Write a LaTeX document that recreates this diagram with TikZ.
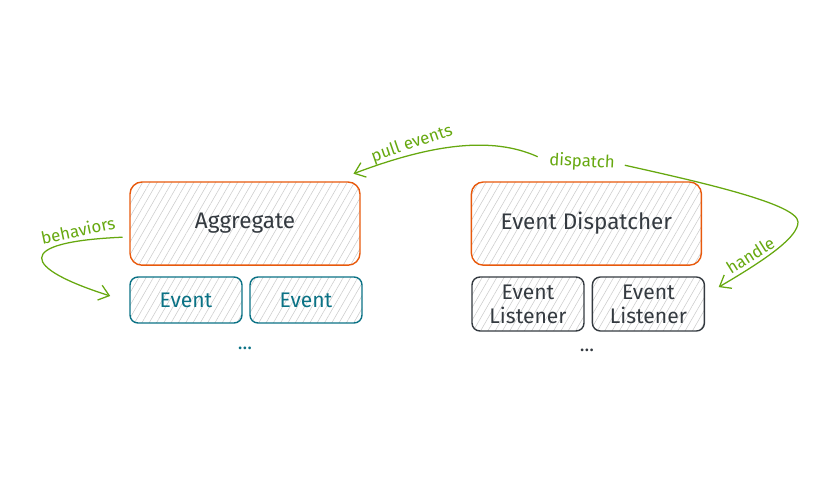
\documentclass[tikz,border=0pt]{standalone}
\usepackage{fontspec}
\setmainfont{Fira Sans}
\usetikzlibrary{patterns.meta,arrows.meta}
\definecolor{orng}{HTML}{E8590C}
\definecolor{cyn}{HTML}{0B7285}
\definecolor{grn}{HTML}{66A80F}
\definecolor{drk}{HTML}{343A40}
\begin{document}
\begin{tikzpicture}[
        box/.style={rounded corners=0.3cm, line width=1pt, inner sep=0pt, align=center,
            pattern={Lines[angle=60,distance=4.5pt,line width=0.4pt]}, pattern color=gray!40},
        bigbox/.style={box, draw=orng, text=drk, minimum width=5.75cm, minimum height=2.08cm,
            font=\fontsize{16}{19}\selectfont},
        evbox/.style={box, rounded corners=0.2cm, draw=cyn, text=cyn, minimum width=2.8cm,
            minimum height=1.15cm, font=\fontsize{15}{18}\selectfont},
        lisbox/.style={box, rounded corners=0.2cm, draw=drk, text=drk, minimum width=2.8cm,
            minimum height=1.35cm, font=\fontsize{15}{17}\selectfont},
        lbl/.style={text=grn, inner sep=0.1cm, font=\fontsize{12}{14}\selectfont},
        arr/.style={draw=grn, line width=0.9pt, -{Straight Barb[length=7pt,width=11pt]}}
    ]
            \useasboundingbox (0,0) rectangle (21,12);
            \node[bigbox] (agg) at (6.125,6.41) {Aggregate};
            \node[evbox] (ev1) at (4.65,4.5) {Event};
            \node[evbox] (ev2) at (7.65,4.5) {Event};
            \node[text=cyn, font=\fontsize{14}{16}\selectfont] (dots1) at (6.125,3.3) {...};
            \node[bigbox] (disp) at (14.66,6.41) {Event Dispatcher};
            \node[lisbox] (lis1) at (13.2,4.4) {Event\\Listener};
            \node[lisbox] (lis2) at (16.21,4.4) {Event\\Listener};
            \node[text=drk, font=\fontsize{14}{16}\selectfont] (dots2) at (14.675,3.25) {...};
            \node[lbl, rotate=12] (blab) at (1.95,6.25) {behaviors};
            \node[lbl, rotate=19] (plab) at (10.3,8.4) {pull events};
            \node[lbl, rotate=-3] (dlab) at (14.55,7.95) {dispatch};
            \node[lbl, rotate=32] (hlab) at (18.76,5.62) {handle};
            \draw[arr] ([shift={(-0.18,-0.34)}]agg.west) .. controls (0.3,5.95) and (0.55,5.3) .. ([yshift=-0.05cm]ev1.west) [shorten >=0.5cm];
            \draw[arr, shorten <=0.2cm] (dlab.west) .. controls (12.3,8.6) and (10.8,8.4) .. ([shift={(-0.17,0.2)}]agg.north east);
            \draw[arr, shorten <=0.15cm] (dlab.east) .. controls (17.5,7.45) and (19.95,6.9) .. (19.95,6.45)
                .. controls (19.95,6.1) and (19.3,5.6) .. ([shift={(0.34,-0.27)}]lis2.north east);
        \end{tikzpicture}
\end{document}
